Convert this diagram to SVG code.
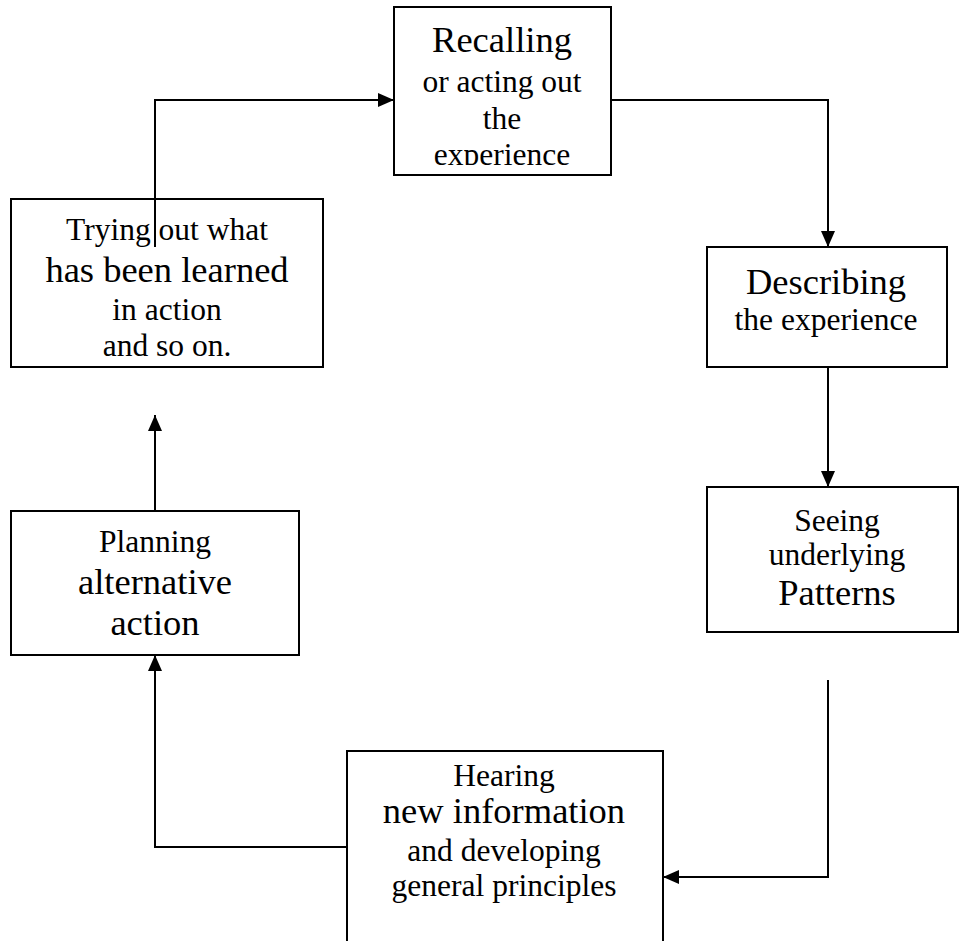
<svg xmlns="http://www.w3.org/2000/svg" width="960" height="941" viewBox="0 0 960 941">
<style>
.box{fill:#fff;stroke:#000;stroke-width:2}
.t{font-family:"Liberation Serif","Times New Roman",serif;fill:#000;text-anchor:middle}
.s{font-size:31.5px}
.l{font-size:36.5px}
.c{fill:none;stroke:#000;stroke-width:2}
</style>
<defs>
<marker id="ah" viewBox="0 0 16 14" refX="16" refY="7" markerWidth="16" markerHeight="14" markerUnits="userSpaceOnUse" orient="auto">
<path d="M0,0 L16,7 L0,14 Z" fill="#000"/>
</marker>
<clipPath id="clipR"><rect x="394" y="7" width="217" height="158"/></clipPath>
</defs>
<rect width="960" height="941" fill="#fff"/>
<g id="n-recalling">
<rect class="box" x="394" y="7" width="217" height="168"/>
<g clip-path="url(#clipR)">
<text class="t l" x="502" y="52">Recalling</text>
<text class="t s" x="502" y="92">or acting out</text>
<text class="t s" x="502" y="129">the</text>
<text class="t s" x="502" y="165">experience</text>
</g>
</g>
<g id="n-trying">
<rect class="box" x="11" y="199" width="312" height="168"/>
<text class="t s" x="167" y="240">Trying out what</text>
<text class="t l" x="167" y="282">has been learned</text>
<text class="t s" x="167" y="320">in action</text>
<text class="t s" x="167" y="356">and so on.</text>
</g>
<g id="n-describing">
<rect class="box" x="707" y="247" width="240" height="120"/>
<text class="t l" x="826" y="294">Describing</text>
<text class="t s" x="826" y="330">the experience</text>
</g>
<g id="n-seeing">
<rect class="box" x="707" y="487" width="251" height="145"/>
<text class="t s" x="837" y="531">Seeing</text>
<text class="t s" x="837" y="565">underlying</text>
<text class="t l" x="837" y="605">Patterns</text>
</g>
<g id="n-hearing">
<rect class="box" x="347" y="751" width="316" height="200"/>
<text class="t s" x="504" y="786">Hearing</text>
<text class="t l" x="504" y="823">new information</text>
<text class="t s" x="504" y="861">and developing</text>
<text class="t s" x="504" y="896">general principles</text>
</g>
<g id="n-planning">
<rect class="box" x="11" y="511" width="288" height="144"/>
<text class="t s" x="155" y="552">Planning</text>
<text class="t l" x="155" y="594">alternative</text>
<text class="t l" x="155" y="635">action</text>
</g>
<g id="connectors">
<path class="c" d="M155,247 V100 H394" marker-end="url(#ah)"/>
<path class="c" d="M611,100 H828 V247" marker-end="url(#ah)"/>
<path class="c" d="M828,367 V487" marker-end="url(#ah)"/>
<path class="c" d="M828,680 V877 H663" marker-end="url(#ah)"/>
<path class="c" d="M347,847 H155 V655" marker-end="url(#ah)"/>
<path class="c" d="M155,511 V415" marker-end="url(#ah)"/>
</g>
</svg>
